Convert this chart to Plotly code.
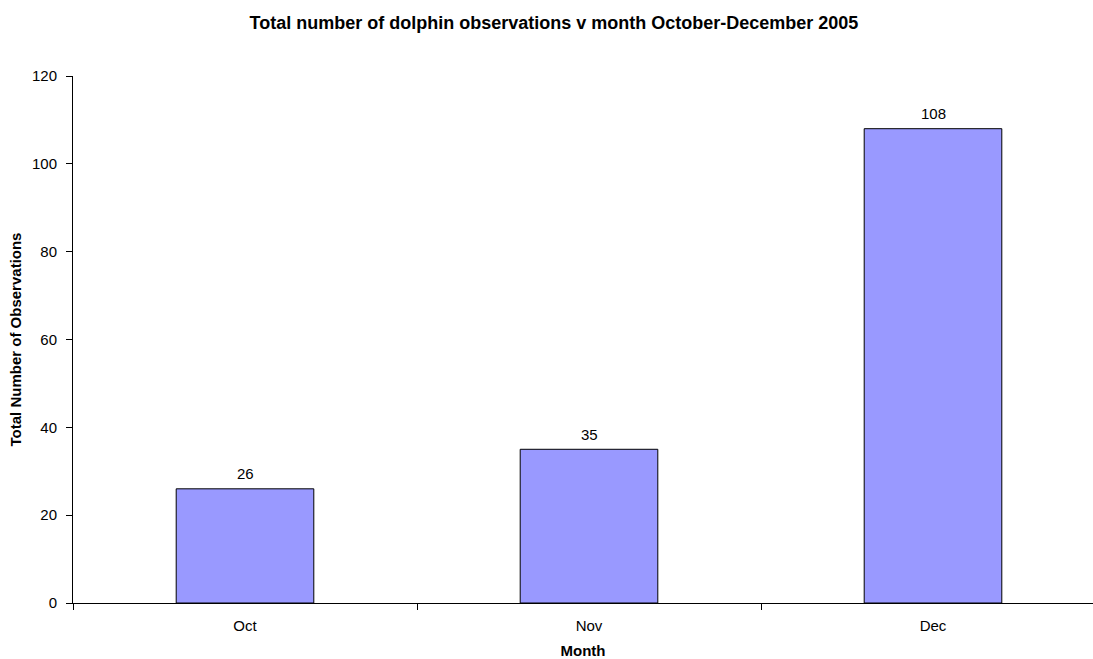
import plotly.graph_objects as go

months = ["Oct", "Nov", "Dec"]
observations = [26, 35, 108]
y_ticks = [0, 20, 40, 60, 80, 100, 120]

FONT = "Liberation Sans, Arial, sans-serif"

fig = go.Figure()
fig.add_trace(go.Bar(
    x=months, y=observations,
    width=0.4,
    marker=dict(color="#9999FF", line=dict(color="black", width=1)),
    hoverinfo="x+y",
))

for m, v in zip(months, observations):
    fig.add_annotation(
        x=m, y=v, xref="x", yref="y",
        text=str(v), showarrow=False,
        yanchor="middle", yshift=15,
        font=dict(family=FONT, size=15, color="black"),
    )

fig.update_layout(
    width=1093, height=659,
    margin=dict(l=73, r=0, t=76, b=56),
    paper_bgcolor="white", plot_bgcolor="white",
    showlegend=False,
    font=dict(family=FONT, size=15, color="black"),
    title=dict(
        text="<b>Total number of dolphin observations v month October-December 2005</b>",
        x=554 / 1093, xanchor="center",
        y=1 - 22.5 / 659, yanchor="middle", yref="container",
        font=dict(family=FONT, size=18, color="black"),
    ),
    xaxis=dict(
        type="category",
        range=[-0.5, 2.5 - 12 / 344],
        tickson="boundaries",
        ticks="outside", ticklen=6, tickcolor="black",
        ticklabelstandoff=9,
        showline=True, linecolor="black", linewidth=1,
        showgrid=False, zeroline=False,
        tickfont=dict(family=FONT, size=15),
        title=dict(text="<b>Month</b>", font=dict(family=FONT, size=15), standoff=13),
    ),
    yaxis=dict(
        range=[0, 120],
        tickvals=y_ticks,
        ticks="outside", ticklen=6, tickcolor="black",
        ticklabelstandoff=6,
        showline=True, linecolor="black", linewidth=1,
        showgrid=False, zeroline=False,
        tickfont=dict(family=FONT, size=15),
        title=dict(text="<b>Total Number of Observations</b>", font=dict(family=FONT, size=15), standoff=6),
    ),
)

fig.write_html("out.html", config={"displayModeBar": False},
               post_script="document.body.style.margin='0px';")
